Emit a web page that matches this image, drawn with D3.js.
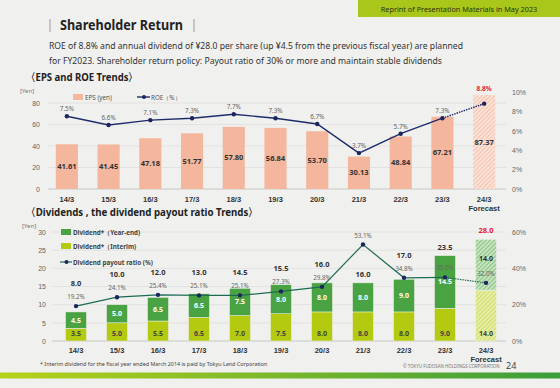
<!DOCTYPE html>
<html>
<head>
<meta charset="utf-8">
<script src="https://cdn.jsdelivr.net/npm/d3@7"></script>
<style>
  body { margin: 0; background: #f0f0ee; }
  svg { display: block; font-family: "Noto Sans", sans-serif; }
  .axis text { fill: #666; font-size: 7px; }
  .cat text { fill: #333; font-size: 7.5px; font-weight: bold; }
</style>
</head>
<body>
<div id="chart"></div>
<script>
// data
const categories = ['14/3', '15/3', '16/3', '17/3', '18/3', '19/3', '20/3', '21/3', '22/3', '23/3', '24/3']
const forecastCat = '24/3'
const eps = [41.61, 41.45, 47.18, 51.77, 57.80, 56.84, 53.70, 30.13, 48.84, 67.21, 87.37]
const roe = [7.5, 6.6, 7.1, 7.3, 7.7, 7.3, 6.7, 3.7, 5.7, 7.3, 8.8]
const divInterim = [3.5, 5.0, 5.5, 6.5, 7.0, 7.5, 8.0, 8.0, 8.0, 9.0, 14.0]
const divYearEnd = [4.5, 5.0, 6.5, 6.5, 7.5, 8.0, 8.0, 8.0, 9.0, 14.5, 14.0]
const divTotal = [8.0, 10.0, 12.0, 13.0, 14.5, 15.5, 16.0, 16.0, 17.0, 23.5, 28.0]
const payoutRatio = [19.2, 24.1, 25.4, 25.1, 25.1, 27.3, 29.8, 53.1, 34.8, 35.0, 32.0]
const epsTicks = [0, 20, 40, 60, 80]
const roeTicks = [0, 2, 4, 6, 8, 10]
const divTicks = [0, 5, 10, 15, 20, 25, 30]
const ratioTicks = [0, 20, 40, 60]

const width = 560, height = 388
const isF = c => c === forecastCat

const svg = d3.select('#chart')
  .append('svg')
  .attr('width', width)
  .attr('height', height)

svg.append('rect').attr('width', width).attr('height', height).attr('fill', '#f0f0ee')

// hatch patterns for forecast
const defs = svg.append('defs')
function hatch(id, bg, fg) {
  const p = defs.append('pattern')
    .attr('id', id)
    .attr('patternUnits', 'userSpaceOnUse')
    .attr('width', 3).attr('height', 3)
    .attr('patternTransform', 'rotate(45)')
  p.append('rect').attr('width', 3).attr('height', 3).attr('fill', bg)
  p.append('line').attr('x1', 0).attr('y1', 0).attr('x2', 0).attr('y2', 3)
    .attr('stroke', fg).attr('stroke-width', 1.2)
}
hatch('hEps', '#fbe2d6', '#f2ad95')
hatch('hYe', '#c6e2bf', '#62b25b')
hatch('hInt', '#e5eda6', '#c2d53c')

const grad = defs.append('linearGradient').attr('id', 'foot')
grad.append('stop').attr('offset', '0%').attr('stop-color', '#b7d11a')
grad.append('stop').attr('offset', '100%').attr('stop-color', '#3a9d3c')

// header
svg.append('rect').attr('x', 358).attr('y', 0).attr('width', 202).attr('height', 17).attr('fill', '#a9c71b')
svg.append('text').attr('x', 459).attr('y', 11.5).attr('text-anchor', 'middle')
  .attr('font-size', 7.3).attr('fill', '#2a3410').text('Reprint of Presentation Materials in May 2023')

svg.append('line').attr('x1', 50).attr('x2', 50).attr('y1', 19).attr('y2', 32).attr('stroke', '#888').attr('stroke-width', 0.8)
svg.append('line').attr('x1', 194).attr('x2', 194).attr('y1', 19).attr('y2', 32).attr('stroke', '#888').attr('stroke-width', 0.8)
svg.append('text').attr('x', 60).attr('y', 30).attr('font-size', 13.5).attr('font-weight', 'bold')
  .attr('textLength', 123).attr('lengthAdjust', 'spacingAndGlyphs')
  .attr('fill', '#222').text('Shareholder Return')

const sub = svg.append('g').attr('font-size', 9.5).attr('fill', '#333')
sub.append('text').attr('x', 49).attr('y', 49).attr('textLength', 414).attr('lengthAdjust', 'spacingAndGlyphs')
  .text('ROE of 8.8% and annual dividend of ¥28.0 per share (up ¥4.5 from the previous fiscal year) are planned')
sub.append('text').attr('x', 49).attr('y', 64).attr('textLength', 393).attr('lengthAdjust', 'spacingAndGlyphs')
  .text('for FY2023. Shareholder return policy: Payout ratio of 30% or more and maintain stable dividends')

// ****************** EPS and ROE ******************
svg.append('text').attr('x', 26).attr('y', 81).attr('font-size', 11).attr('font-weight', 'bold').attr('fill', '#222')
  .attr('textLength', 112).attr('lengthAdjust', 'spacingAndGlyphs')
  .text('〈EPS and ROE Trends〉')

const x1 = d3.scaleBand().domain(categories).range([46, 505]).paddingInner(0.47).paddingOuter(0.235)
const yEps = d3.scaleLinear().domain([0, 90]).range([189, 92.25])
const yRoe = d3.scaleLinear().domain([0, 10]).range([189, 92])

const topG = svg.append('g')

topG.append('g').selectAll('line')
  .data(epsTicks)
  .join('line')
  .attr('x1', 48).attr('x2', 506)
  .attr('y1', d => yEps(d)).attr('y2', d => yEps(d))
  .attr('stroke', d => d === 0 ? '#bdbdbd' : '#dedede').attr('stroke-width', 0.8)

topG.append('g').attr('class', 'axis')
  .attr('transform', 'translate(44,0)')
  .call(d3.axisLeft(yEps).tickValues(epsTicks).tickSize(0).tickPadding(4))
  .call(g => g.select('.domain').remove())

topG.append('g').attr('class', 'axis')
  .attr('transform', 'translate(508,0)')
  .call(d3.axisRight(yRoe).tickValues(roeTicks).tickSize(0).tickPadding(4).tickFormat(d => d + '%'))
  .call(g => g.select('.domain').remove())

topG.append('text').attr('x', 20).attr('y', 93).attr('font-size', 6).attr('fill', '#777').text('[Yen]')

// bars
topG.append('g').selectAll('rect')
  .data(categories)
  .join('rect')
  .attr('x', d => x1(d))
  .attr('width', x1.bandwidth())
  .attr('y', (d, i) => yEps(eps[i]))
  .attr('height', (d, i) => yEps(0) - yEps(eps[i]))
  .attr('fill', d => isF(d) ? 'url(#hEps)' : '#f4b69c')

topG.append('g').selectAll('text')
  .data(categories)
  .join('text')
  .attr('x', d => x1(d) + x1.bandwidth() / 2)
  .attr('y', (d, i) => (yEps(eps[i]) + yEps(0)) / 2 + 2.5)
  .attr('text-anchor', 'middle')
  .attr('font-size', 7.5).attr('font-weight', 'bold').attr('fill', '#333')
  .text((d, i) => d3.format('.2f')(eps[i]))

// roe line
const cx1 = d => x1(d) + x1.bandwidth() / 2
const roeLine = d3.line().x(d => cx1(d.c)).y(d => yRoe(d.v))
const roePts = categories.map((c, i) => ({ c, v: roe[i] }))
topG.append('path')
  .attr('d', roeLine(roePts.filter(p => !isF(p.c))))
  .attr('fill', 'none').attr('stroke', '#1f2c6b').attr('stroke-width', 1.4)
topG.append('path')
  .attr('d', roeLine(roePts.slice(-2)))
  .attr('fill', 'none').attr('stroke', '#1f2c6b').attr('stroke-width', 1.4).attr('stroke-dasharray', '1.5,1')
topG.append('g').selectAll('circle')
  .data(roePts)
  .join('circle')
  .attr('cx', d => cx1(d.c)).attr('cy', d => yRoe(d.v)).attr('r', 2.2).attr('fill', '#1b2560')

topG.append('g').selectAll('text')
  .data(roePts)
  .join('text')
  .attr('x', d => cx1(d.c))
  .attr('y', (d, i) => isF(d.c) ? yEps(eps[i]) - 4 : yRoe(d.v) - 5)
  .attr('text-anchor', 'middle')
  .attr('font-size', d => isF(d.c) ? 6.5 : 6.3)
  .attr('font-weight', d => isF(d.c) ? 'bold' : 'normal')
  .attr('fill', d => isF(d.c) ? '#e8202a' : '#666')
  .text(d => d.v.toFixed(1) + '%')

// legend
topG.append('rect').attr('x', 73).attr('y', 94).attr('width', 10).attr('height', 6).attr('fill', '#f4b69c')
topG.append('text').attr('x', 85).attr('y', 99.5).attr('font-size', 6.3).attr('fill', '#555').text('EPS (yen)')
topG.append('line').attr('x1', 137).attr('x2', 150).attr('y1', 97).attr('y2', 97).attr('stroke', '#1f2c6b').attr('stroke-width', 1.4)
topG.append('circle').attr('cx', 144).attr('cy', 97).attr('r', 2).attr('fill', '#1b2560')
topG.append('text').attr('x', 151).attr('y', 99.5).attr('font-size', 6.3).attr('fill', '#555').text('ROE（%）')

// category labels
const catAxis1 = topG.append('g').attr('class', 'cat')
  .attr('transform', 'translate(0,189)')
  .call(d3.axisBottom(x1).tickSize(0).tickPadding(8))
catAxis1.select('.domain').remove()
catAxis1.selectAll('.tick text').filter(d => isF(d))
  .append('tspan').attr('x', 0).attr('dy', '1.15em').text('Forecast')

// ****************** Dividends ******************
svg.append('text').attr('x', 26).attr('y', 216).attr('font-size', 11).attr('font-weight', 'bold').attr('fill', '#222')
  .attr('textLength', 232).attr('lengthAdjust', 'spacingAndGlyphs')
  .text('〈Dividends , the dividend payout ratio Trends〉')

const x2 = d3.scaleBand().domain(categories).range([55.5, 506.5]).paddingInner(0.49).paddingOuter(0.245)
const yDiv = d3.scaleLinear().domain([0, 30]).range([341, 232])
const yRatio = d3.scaleLinear().domain([0, 60]).range([341, 232])
const cx2 = d => x2(d) + x2.bandwidth() / 2

const bot = svg.append('g')

bot.append('g').selectAll('line')
  .data(divTicks)
  .join('line')
  .attr('x1', 52).attr('x2', 506)
  .attr('y1', d => yDiv(d)).attr('y2', d => yDiv(d))
  .attr('stroke', d => d === 0 ? '#bdbdbd' : '#dedede').attr('stroke-width', 0.8)

bot.append('g').attr('class', 'axis')
  .attr('transform', 'translate(50,0)')
  .call(d3.axisLeft(yDiv).tickValues(divTicks).tickSize(0).tickPadding(4))
  .call(g => g.select('.domain').remove())

bot.append('g').attr('class', 'axis')
  .attr('transform', 'translate(508,0)')
  .call(d3.axisRight(yRatio).tickValues(ratioTicks).tickSize(0).tickPadding(4).tickFormat(d => d + '%'))
  .call(g => g.select('.domain').remove())

bot.append('text').attr('x', 22).attr('y', 228).attr('font-size', 6).attr('fill', '#777').text('[Yen]')

// legend
bot.append('rect').attr('x', 61).attr('y', 229).attr('width', 10).attr('height', 6).attr('fill', '#4aa343')
bot.append('text').attr('x', 73).attr('y', 234.5).attr('font-size', 6.3).attr('font-weight', 'bold').attr('fill', '#444').text('Dividend*（Year-end)')
bot.append('rect').attr('x', 61).attr('y', 243).attr('width', 10).attr('height', 6).attr('fill', '#b3ca10')
bot.append('text').attr('x', 73).attr('y', 248.5).attr('font-size', 6.3).attr('font-weight', 'bold').attr('fill', '#444').text('Dividend*（Interim)')
bot.append('line').attr('x1', 60).attr('x2', 72).attr('y1', 262).attr('y2', 262).attr('stroke', '#1e6b55').attr('stroke-width', 1.2)
bot.append('circle').attr('cx', 66.5).attr('cy', 262).attr('r', 2).attr('fill', '#1b2560')
bot.append('text').attr('x', 73).attr('y', 264.5).attr('font-size', 6.3).attr('font-weight', 'bold').attr('fill', '#444').text('Dividend payout ratio (%)')

// stacked bars
const stackData = categories.map((c, i) => ({ c, interim: divInterim[i], yearEnd: divYearEnd[i] }))
const series = d3.stack().keys(['interim', 'yearEnd'])(stackData)
const fills = {
  interim: d => isF(d.data.c) ? 'url(#hInt)' : '#b3ca10',
  yearEnd: d => isF(d.data.c) ? 'url(#hYe)' : '#4aa343'
}

bot.append('g').selectAll('g')
  .data(series)
  .join('g')
  .each(function (s) {
    d3.select(this).selectAll('rect')
      .data(s)
      .join('rect')
      .attr('x', d => x2(d.data.c))
      .attr('width', x2.bandwidth())
      .attr('y', d => yDiv(d[1]))
      .attr('height', d => yDiv(d[0]) - yDiv(d[1]))
      .attr('fill', fills[s.key])
      .attr('stroke', '#f0f0ee').attr('stroke-width', 0.5)
  })

// segment labels
bot.append('g').selectAll('text')
  .data(series[0])
  .join('text')
  .attr('x', d => cx2(d.data.c))
  .attr('y', yDiv(0) - 5.5)
  .attr('text-anchor', 'middle')
  .attr('font-size', 7).attr('font-weight', 'bold').attr('fill', '#444')
  .text(d => d.data.interim.toFixed(1))

bot.append('g').selectAll('text')
  .data(series[1])
  .join('text')
  .attr('x', d => cx2(d.data.c))
  .attr('y', d => (yDiv(d[0]) + yDiv(d[1])) / 2 + (isF(d.data.c) ? -3.5 : 2.5))
  .attr('text-anchor', 'middle')
  .attr('font-size', 7).attr('font-weight', 'bold')
  .attr('fill', d => isF(d.data.c) ? '#333' : '#fff')
  .text(d => d.data.yearEnd.toFixed(1))

// payout ratio line
const ratioPts = categories.map((c, i) => ({ c, v: payoutRatio[i] }))
const ratioLine = d3.line().x(d => cx2(d.c)).y(d => yRatio(d.v))
bot.append('path')
  .attr('d', ratioLine(ratioPts.filter(p => !isF(p.c))))
  .attr('fill', 'none').attr('stroke', '#1e6b55').attr('stroke-width', 1.2)
bot.append('path')
  .attr('d', ratioLine(ratioPts.slice(-2)))
  .attr('fill', 'none').attr('stroke', '#1e6b55').attr('stroke-width', 1.2).attr('stroke-dasharray', '1.5,1')
bot.append('g').selectAll('circle')
  .data(ratioPts)
  .join('circle')
  .attr('cx', d => cx2(d.c)).attr('cy', d => yRatio(d.v)).attr('r', 2.2).attr('fill', '#1b2560')

bot.append('g').selectAll('text')
  .data(ratioPts)
  .join('text')
  .attr('x', d => cx2(d.c))
  .attr('y', d => yRatio(d.v) - 7)
  .attr('text-anchor', 'middle')
  .attr('font-size', 6.3).attr('fill', '#666')
  .text(d => d.v.toFixed(1) + '%')

// totals, kept clear of the ratio labels
function totalY(i) {
  const barTop = yDiv(divTotal[i])
  const rY = yRatio(payoutRatio[i])
  if (rY < barTop - 25) return barTop - 6
  return Math.min(barTop - 6, rY - 20)
}
bot.append('g').selectAll('text')
  .data(categories)
  .join('text')
  .attr('x', d => cx2(d))
  .attr('y', (d, i) => totalY(i))
  .attr('text-anchor', 'middle')
  .attr('font-size', 7.5).attr('font-weight', 'bold')
  .attr('fill', d => isF(d) ? '#e8202a' : '#333')
  .text((d, i) => divTotal[i].toFixed(1))

const catAxis2 = bot.append('g').attr('class', 'cat')
  .attr('transform', 'translate(0,341)')
  .call(d3.axisBottom(x2).tickSize(0).tickPadding(7))
catAxis2.select('.domain').remove()
catAxis2.selectAll('.tick text').filter(d => isF(d))
  .append('tspan').attr('x', 0).attr('dy', '1.15em').text('Forecast')

// footer
svg.append('text').attr('x', 40).attr('y', 366).attr('font-size', 5.4).attr('fill', '#444')
  .text('* Interim dividend for the fiscal year ended March 2014 is paid by Tokyu Land Corporation')
svg.append('text').attr('x', 403).attr('y', 368).attr('font-size', 4.4).attr('fill', '#777')
  .text('© TOKYU FUDOSAN HOLDINGS CORPORATION')
svg.append('text').attr('x', 506).attr('y', 369).attr('font-size', 9).attr('fill', '#444').text('24')
svg.append('rect').attr('x', 0).attr('y', 372.5).attr('width', width).attr('height', 6).attr('fill', 'url(#foot)')
</script>
</body>
</html>
